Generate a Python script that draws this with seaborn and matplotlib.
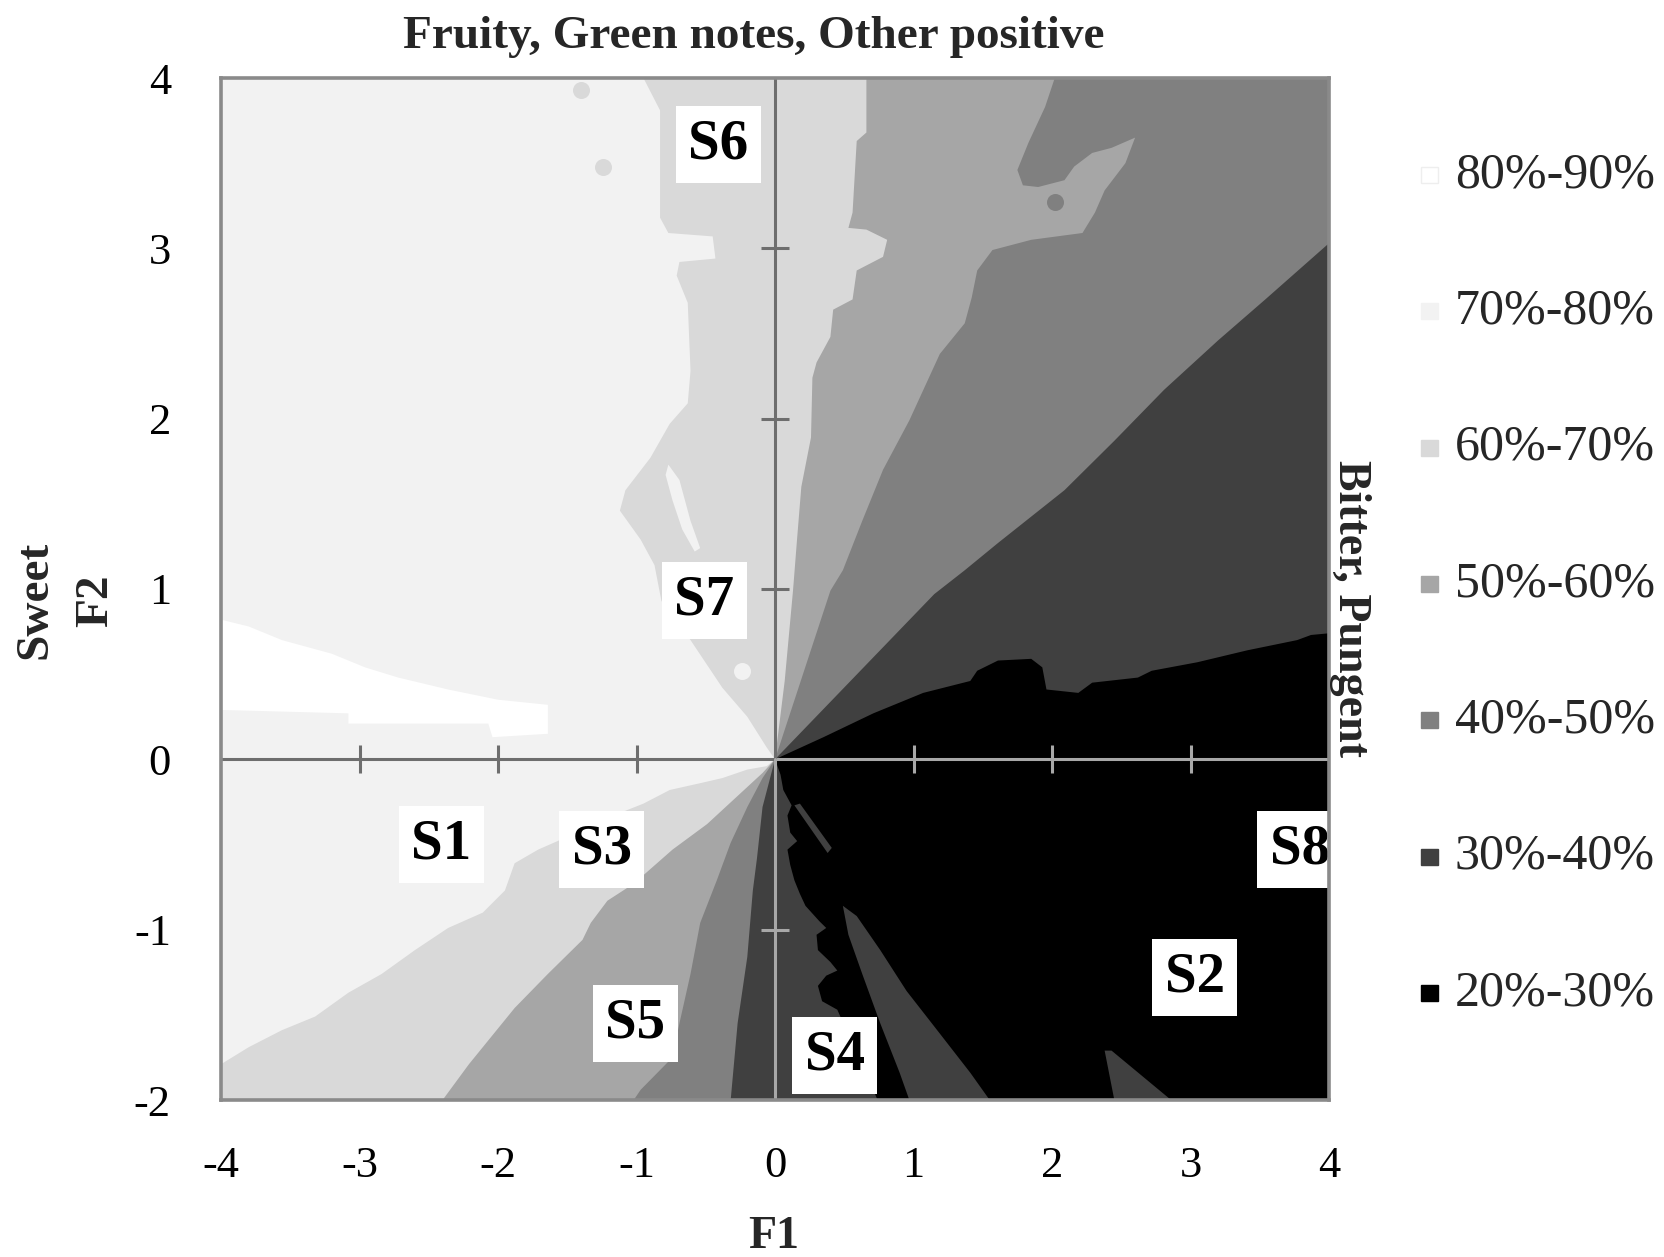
import matplotlib
matplotlib.use("Agg")
import matplotlib.pyplot as plt
from matplotlib.patches import Rectangle
import seaborn as sns

# ---------------- data ----------------
level_labels = ["80%-90%", "70%-80%", "60%-70%", "50%-60%", "40%-50%", "30%-40%", "20%-30%"]
level_colors = ["#ffffff", "#f2f2f2", "#d9d9d9", "#a6a6a6", "#808080", "#404040", "#000000"]

x_ticks = [-4, -3, -2, -1, 0, 1, 2, 3, 4]
y_ticks = [-2, -1, 0, 1, 2, 3, 4]

# iso-preference boundaries, (F1, F2)
b76_upper = [(-0.95, 4.0), (-0.83, 3.81), (-0.83, 3.18), (-0.77, 3.09), (-0.45, 3.07), (-0.43, 2.94),
             (-0.69, 2.92), (-0.71, 2.84), (-0.63, 2.68), (-0.61, 2.28), (-0.63, 2.09), (-0.76, 1.97),
             (-0.90, 1.77), (-1.08, 1.58), (-1.12, 1.46), (-0.97, 1.29), (-0.87, 1.14), (-0.82, 0.93),
             (-0.61, 0.70), (-0.38, 0.42), (-0.20, 0.25), (-0.06, 0.07), (0.0, 0.0)]
b76_lower = [(-0.06, -0.04), (-0.20, -0.06), (-0.38, -0.11), (-0.54, -0.14), (-0.76, -0.18), (-0.95, -0.26),
             (-1.26, -0.36), (-1.57, -0.48), (-1.71, -0.53), (-1.88, -0.61), (-1.95, -0.77), (-2.11, -0.90),
             (-2.36, -0.99), (-2.60, -1.12), (-2.84, -1.26), (-3.08, -1.37), (-3.32, -1.51), (-3.56, -1.59),
             (-3.80, -1.69), (-4.0, -1.79)]
b65_upper = [(0.66, 4.0), (0.66, 3.68), (0.59, 3.63), (0.56, 3.21), (0.53, 3.12), (0.66, 3.11), (0.81, 3.05),
             (0.78, 2.95), (0.59, 2.87), (0.56, 2.70), (0.42, 2.64), (0.40, 2.48), (0.30, 2.33), (0.27, 2.24),
             (0.26, 1.89), (0.19, 1.60), (0.16, 1.30), (0.13, 0.99), (0.07, 0.46), (0.0, 0.0)]
b65_lower = [(-0.09, -0.08), (-0.25, -0.20), (-0.49, -0.38), (-0.74, -0.53), (-1.02, -0.73), (-1.21, -0.83),
             (-1.33, -0.96), (-1.39, -1.06), (-1.64, -1.26), (-1.88, -1.46), (-1.97, -1.55), (-2.21, -1.79),
             (-2.40, -2.0)]
b54_upper = [(2.02, 4.0), (1.95, 3.83), (1.83, 3.62), (1.75, 3.46), (1.79, 3.37), (1.90, 3.36), (2.09, 3.40),
             (2.16, 3.48), (2.29, 3.56), (2.43, 3.59), (2.60, 3.65), (2.53, 3.50), (2.38, 3.34), (2.31, 3.21),
             (2.22, 3.09), (1.85, 3.05), (1.57, 2.99), (1.46, 2.87), (1.42, 2.71), (1.37, 2.56), (1.19, 2.38),
             (0.97, 1.99), (0.78, 1.70), (0.63, 1.40), (0.49, 1.11), (0.40, 0.99), (0.0, 0.0)]
b54_lower = [(-0.09, -0.11), (-0.20, -0.28), (-0.32, -0.49), (-0.42, -0.71), (-0.54, -0.96), (-0.61, -1.26),
             (-0.69, -1.55), (-0.74, -1.75), (-0.97, -1.94), (-1.02, -2.0)]
b43_upper = [(4.0, 3.03), (3.54, 2.70), (3.20, 2.46), (2.81, 2.17), (2.45, 1.87), (2.09, 1.58), (1.61, 1.27),
             (1.37, 1.11), (1.15, 0.97), (0.0, 0.0)]
b43_lower = [(-0.09, -0.28), (-0.13, -0.58), (-0.16, -0.77), (-0.20, -1.16), (-0.27, -1.55), (-0.32, -2.0)]
b32_upper = [(0.0, 0.0), (0.35, 0.13), (0.71, 0.27), (1.07, 0.39), (1.41, 0.46), (1.46, 0.52), (1.61, 0.58),
             (1.85, 0.59), (1.93, 0.54), (1.96, 0.41), (2.19, 0.39), (2.29, 0.45), (2.62, 0.48), (2.72, 0.52),
             (3.05, 0.57), (3.41, 0.64), (3.77, 0.70), (3.87, 0.73), (4.0, 0.74)]
b32_bottom = [(4.0, -2.0), (2.86, -2.0), (2.43, -1.71), (2.38, -1.71), (2.45, -2.0), (0.74, -2.0)]
b32_chain = [(0.67, -1.86), (0.58, -1.71), (0.51, -1.58), (0.45, -1.47), (0.34, -1.42), (0.31, -1.33),
             (0.37, -1.27), (0.45, -1.24), (0.40, -1.19), (0.31, -1.12), (0.30, -1.03), (0.37, -0.99),
             (0.32, -0.95), (0.22, -0.86), (0.18, -0.79), (0.14, -0.71), (0.11, -0.62), (0.09, -0.53),
             (0.16, -0.48), (0.11, -0.43), (0.09, -0.33), (0.12, -0.27), (0.06, -0.18), (0.04, -0.09)]
band_30_40 = [(0.49, -0.86), (0.59, -0.92), (0.76, -1.12), (0.95, -1.36), (1.19, -1.61), (1.41, -1.84),
              (1.55, -2.0), (0.97, -2.0), (0.90, -1.84), (0.76, -1.55), (0.63, -1.26), (0.53, -1.03)]
streak_30_40 = [(0.14, -0.27), (0.18, -0.26), (0.41, -0.52), (0.38, -0.55)]
blob_80_90 = [(-4.0, 0.82), (-3.80, 0.78), (-3.56, 0.70), (-3.20, 0.62), (-2.96, 0.54), (-2.72, 0.48),
              (-2.36, 0.41), (-2.0, 0.35), (-1.64, 0.32), (-1.64, 0.15), (-2.04, 0.13), (-2.07, 0.21),
              (-3.08, 0.21), (-3.08, 0.27), (-4.0, 0.29)]
streak_70_80 = [(-0.77, 1.73), (-0.69, 1.64), (-0.61, 1.40), (-0.54, 1.24), (-0.58, 1.22), (-0.67, 1.35),
                (-0.74, 1.52), (-0.79, 1.67)]
spots_60_70 = [(-1.40, 3.93), (-1.24, 3.48)]
spots_70_80 = [(-0.24, 0.52)]
spots_40_50 = [(2.02, 3.27)]

sample_names = ["S1", "S2", "S3", "S4", "S5", "S6", "S7", "S8"]
sample_f1 = [-2.41, 3.03, -1.25, 0.43, -1.01, -0.41, -0.51, 3.79]
sample_f2 = [-0.50, -1.28, -0.53, -1.74, -1.55, 3.61, 0.93, -0.53]

title = "Fruity, Green notes, Other positive"

# ---------------- style ----------------
sns.set_theme(style="white")
serif = ["Liberation Serif", "DejaVu Serif"]
plt.rcParams["font.family"] = serif
plt.rcParams["axes.unicode_minus"] = False

W, H = 1665, 1257
fig = plt.figure(figsize=(W / 100, H / 100), dpi=100)
ax = fig.add_axes([221 / W, 1 - 1100 / H, (1329 - 221) / W, (1100 - 78) / H])


def fill(poly, color, z):
    xs = [p[0] for p in poly]
    ys = [p[1] for p in poly]
    ax.fill(xs, ys, color=color, lw=0, zorder=z)


xmin, xmax, ymin, ymax = x_ticks[0], x_ticks[-1], y_ticks[0], y_ticks[-1]
c8, c7, c6, c5, c4, c3, c2 = level_colors

fill([(xmin, ymin), (xmax, ymin), (xmax, ymax), (xmin, ymax)], c7, 1)
fill(b76_upper + b76_lower + [(xmin, ymin), (xmax, ymin), (xmax, ymax)], c6, 2)
fill(b65_upper + b65_lower + [(xmax, ymin), (xmax, ymax)], c5, 3)
fill(b54_upper + b54_lower + [(xmax, ymin), (xmax, ymax)], c4, 4)
fill(b43_upper + b43_lower + [(xmax, ymin)], c3, 5)
fill(b32_upper + b32_bottom + b32_chain, c2, 6)
fill(band_30_40, c3, 7)
fill(streak_30_40, c3, 7)
fill(blob_80_90, c8, 7)
fill(streak_70_80, c7, 7)
for pts, col in [(spots_60_70, c6), (spots_70_80, c7), (spots_40_50, c4)]:
    ax.scatter([p[0] for p in pts], [p[1] for p in pts], s=150, color=col, lw=0, zorder=7)

# inner axes through the origin
dark, light = "#6e6e6e", "#a8a8a8"
ax.plot([xmin, 0], [0, 0], color=dark, lw=2.2, zorder=8)
ax.plot([0, xmax], [0, 0], color=light, lw=2.2, zorder=8)
ax.plot([0, 0], [0, ymax], color=dark, lw=2.2, zorder=8)
ax.plot([0, 0], [ymin, 0], color=light, lw=2.2, zorder=8)
xt_in = [t for t in x_ticks if xmin < t < xmax and t != 0]
yt_in = [t for t in y_ticks if ymin < t < ymax and t != 0]
xneg = [t for t in xt_in if t < 0]
xpos = [t for t in xt_in if t > 0]
ypos = [t for t in yt_in if t > 0]
yneg = [t for t in yt_in if t < 0]
ax.plot(xneg, [0] * len(xneg), ls="none", marker="|", ms=20, mew=2.2, color=dark, zorder=8)
ax.plot(xpos, [0] * len(xpos), ls="none", marker="|", ms=20, mew=2.2, color=light, zorder=8)
ax.plot([0] * len(ypos), ypos, ls="none", marker="_", ms=20, mew=2.2, color=dark, zorder=8)
ax.plot([0] * len(yneg), yneg, ls="none", marker="_", ms=20, mew=2.2, color=light, zorder=8)

# sample labels
for name, fx, fy in zip(sample_names, sample_f1, sample_f2):
    ax.text(fx, fy, name, ha="center", va="center", fontsize=41, fontweight="bold",
            color="black", zorder=10,
            bbox=dict(boxstyle="square,pad=0.22", fc="white", ec="none"))

ax.set_xlim(xmin, xmax)
ax.set_ylim(ymin, ymax)
ax.set_xticks(x_ticks)
ax.set_yticks(y_ticks)
ax.set_xticklabels([str(t) for t in x_ticks])
ax.set_yticklabels([str(t) for t in y_ticks])
ax.tick_params(axis="x", length=0, pad=33, labelsize=32, colors="black")
ax.tick_params(axis="y", length=0, pad=36, labelsize=32, colors="black")
for s in ax.spines.values():
    s.set_visible(True)
    s.set_color("#8a8a8a")
    s.set_linewidth(2.6)
    s.set_zorder(12)
ax.grid(False)

# titles / axis labels
fig.text(754 / W, 1 - 37 / H, title, ha="center", va="center", fontsize=34, fontweight="bold")
fig.text(774 / W, 1 - 1237 / H, "F1", ha="center", va="center", fontsize=33, fontweight="bold")
fig.text(35 / W, 1 - 600 / H, "Sweet", ha="center", va="center", rotation=90, fontsize=34,
         fontweight="bold")
fig.text(96 / W, 1 - 601 / H, "F2", ha="center", va="center", rotation=90, fontsize=34,
         fontweight="bold")
fig.text(1350 / W, 1 - 608 / H, "Bitter, Pungent", ha="center", va="center", rotation=270,
         fontsize=33, fontweight="bold")

# legend
for i, (lab, col) in enumerate(zip(level_labels, level_colors)):
    yc = 175 + i * 136.3
    ec = "#eeeeee" if i == 0 else col
    fig.add_artist(Rectangle((1421 / W, 1 - (yc + 8) / H), 17 / W, 16 / H,
                             transform=fig.transFigure, fc=col, ec=ec, lw=1))
    fig.text(1455 / W, 1 - yc / H, lab, ha="left", va="center", fontsize=36)

fig.savefig("out.png", dpi=100)
